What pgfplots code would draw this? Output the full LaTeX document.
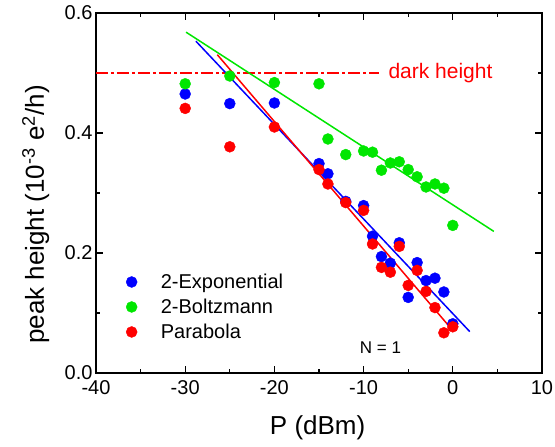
\documentclass[border=0pt]{standalone}
\usepackage{fontspec}
\setmainfont{Liberation Sans}
\usepackage{pgfplots}
\pgfplotsset{compat=1.18}
\definecolor{fitgreen}{RGB}{0,230,0}

\begin{document}
\begin{tikzpicture}
\begin{axis}[
    width=446pt, height=360pt, scale only axis,
    xmin=-40, xmax=10, ymin=0, ymax=0.6,
    xtick={-40,-30,...,10}, minor x tick num=1,
    ytick={0,0.2,0.4,0.6}, minor y tick num=1,
    tick align=inside,
    major tick length=7pt, minor tick length=4pt,
    axis line style={line width=1.6pt},
    every tick/.style={black, line width=1.2pt},
    /pgf/number format/assume math mode=true,
    yticklabel style={/pgf/number format/.cd, fixed, fixed zerofill, precision=1},
    ticklabel style={font=\fontsize{20}{24}\selectfont},
    xticklabel style={yshift=-4pt},
    xlabel={P (dBm)},
    ylabel={peak height (10\textsuperscript{-3} e\textsuperscript{2}/h)},
    label style={font=\fontsize{26}{30}\selectfont},
    xlabel style={at={(rel axis cs:0.497,-0.153)}, anchor=center},
    ylabel style={at={(rel axis cs:-0.135,0.44)}, anchor=center},
    clip=false,
    legend style={at={(axis cs:-37.0,0.172)}, anchor=north west, draw=none, fill=none,
        font=\fontsize{20}{24}\selectfont, row sep=5pt,
        legend cell align=left},
    legend image code/.code={\path (-5.5pt,0pt) (27pt,0pt); \fill[#1] (0pt,0pt) circle (5.5pt);},
]
% dark height reference
\addplot[red, line width=2pt, dash pattern=on 12pt off 3pt on 3pt off 3pt, forget plot]
    coordinates {(-40,0.5) (-8.3,0.5)};
\node[red, anchor=west, font=\fontsize{21}{24}\selectfont] at (axis cs:-7.6,0.5) {dark height};
\node[font=\fontsize{17}{20}\selectfont] at (axis cs:-8.1,0.043) {N = 1};

\addplot[only marks, mark=*, mark size=5.5pt, blue, mark options={draw=none, fill=blue}] coordinates {
(-30,0.465) (-25,0.449) (-20,0.45) (-15,0.349) (-14,0.332) (-12,0.286)
(-10,0.279) (-9,0.228) (-8,0.194) (-7,0.183) (-6,0.217) (-5,0.126)
(-4,0.184) (-3,0.154) (-2,0.158) (-1,0.135) (0,0.082)};
\addlegendentry{2-Exponential}
\addplot[only marks, mark=*, mark size=5.5pt, fitgreen, mark options={draw=none, fill=fitgreen}] coordinates {
(-30,0.482) (-25,0.495) (-20,0.484) (-15,0.482) (-14,0.39) (-12,0.364)
(-10,0.37) (-9,0.368) (-8,0.338) (-7,0.35) (-6,0.352) (-5,0.339)
(-4,0.327) (-3,0.31) (-2,0.315) (-1,0.308) (0,0.246)};
\addlegendentry{2-Boltzmann}
\addplot[only marks, mark=*, mark size=5.5pt, red, mark options={draw=none, fill=red}] coordinates {
(-30,0.441) (-25,0.377) (-20,0.41) (-15,0.339) (-14,0.315) (-12,0.284)
(-10,0.271) (-9,0.215) (-8,0.176) (-7,0.168) (-6,0.211) (-5,0.146)
(-4,0.171) (-3,0.136) (-2,0.109) (-1,0.067) (0,0.077)};
\addlegendentry{Parabola}

% linear fits
\addplot[blue, line width=1.5pt, forget plot] coordinates {(-28.8,0.553) (1.9,0.069)};
\addplot[red, line width=1.5pt, forget plot] coordinates {(-26.4,0.5305) (0.1,0.069)};
\addplot[fitgreen, line width=1.5pt, forget plot] coordinates {(-29.9,0.568) (4.6,0.236)};
\end{axis}
\pgfresetboundingbox
\path ([shift={(-96pt,-74pt)}]current axis.south west) rectangle ([shift={(13pt,13pt)}]current axis.north east);
\end{tikzpicture}
\end{document}
